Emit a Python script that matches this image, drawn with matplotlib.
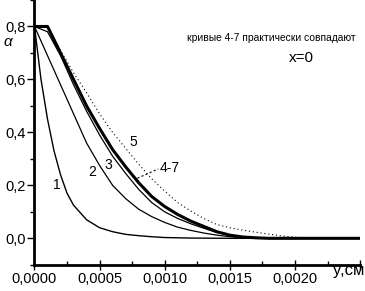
import matplotlib
matplotlib.use("Agg")
import matplotlib.pyplot as plt
from matplotlib.ticker import MultipleLocator, FuncFormatter

plt.rcParams["font.family"] = ["Liberation Sans", "DejaVu Sans"]

# y, cm  (common grid for curves 2-5)
y_cm = [0, 0.0001, 0.0002, 0.0003, 0.0004, 0.0005, 0.0006, 0.0007, 0.0008,
        0.0009, 0.0010, 0.0011, 0.0012, 0.0013, 0.0014, 0.0015, 0.0016,
        0.0017, 0.0018, 0.0019, 0.0020, 0.0021, 0.0022, 0.0025]

# curve 1 has its own finer grid near the wall
y1_cm = [0, 0.00005, 0.0001, 0.00015, 0.0002, 0.00025, 0.0003, 0.0004,
         0.0005, 0.0006, 0.0007, 0.0008, 0.0009, 0.0010, 0.0012, 0.0015, 0.0025]
a1 = [0.8, 0.60, 0.45, 0.33, 0.24, 0.17, 0.125, 0.07,
      0.04, 0.025, 0.015, 0.01, 0.006, 0.003, 0.001, 0.0, 0.0]

a2 = [0.8, 0.69, 0.58, 0.47, 0.36, 0.275, 0.2, 0.15, 0.11,
      0.082, 0.06, 0.042, 0.03, 0.02, 0.012, 0.006, 0.003,
      0.001, 0, 0, 0, 0, 0, 0]
a3 = [0.8, 0.78, 0.69, 0.58, 0.48, 0.39, 0.31, 0.245, 0.185,
      0.135, 0.10, 0.075, 0.055, 0.038, 0.022, 0.012, 0.005,
      0.001, 0, 0, 0, 0, 0, 0]
a47 = [0.8, 0.8, 0.70, 0.60, 0.50, 0.415, 0.335, 0.27, 0.21,
       0.158, 0.12, 0.09, 0.065, 0.045, 0.025, 0.012, 0.005,
       0.002, 0, 0, 0, 0, 0, 0]
a5 = [0.8, 0.8, 0.71, 0.625, 0.55, 0.47, 0.40, 0.34, 0.28,
      0.225, 0.178, 0.135, 0.103, 0.075, 0.052, 0.04, 0.031,
      0.023, 0.016, 0.009, 0.004, 0.001, 0, 0]

fig = plt.figure(figsize=(3.65, 2.91), dpi=100)
ax = fig.add_axes([0.0945, 0.09, 0.892, 0.91])

ax.plot(y1_cm, a1, color="k", lw=1.0)
ax.plot(y_cm, a2, color="k", lw=0.9)
ax.plot(y_cm, a3, color="k", lw=0.9)
ax.plot(y_cm, a47, color="k", lw=2.2)
ax.plot(y_cm, a5, color="k", lw=0.8, ls=(0, (1, 2.5)))

ax.set_xlim(0, 0.0025)
ax.set_ylim(-0.1, 0.9)

for s in ["top", "right"]:
    ax.spines[s].set_visible(False)
ax.spines["left"].set_linewidth(2)
ax.spines["bottom"].set_linewidth(2)

ax.xaxis.set_major_locator(MultipleLocator(0.0005))
ax.xaxis.set_minor_locator(MultipleLocator(0.00025))
ax.yaxis.set_major_locator(MultipleLocator(0.2))
ax.yaxis.set_minor_locator(MultipleLocator(0.1))
ax.xaxis.set_major_formatter(FuncFormatter(lambda v, p: f"{v:.4f}".replace(".", ",") if v < 0.00245 else ""))
ax.yaxis.set_major_formatter(FuncFormatter(lambda v, p: f"{v:.1f}".replace(".", ",") if v > -0.05 else ""))
ax.tick_params(axis="x", which="major", direction="inout", length=7, width=1, labelsize=10.5, pad=2)
ax.tick_params(axis="x", which="minor", direction="in", length=3, width=1)
ax.tick_params(axis="y", which="major", direction="out", length=5, width=1, labelsize=10.5, pad=1)
ax.tick_params(axis="y", which="minor", direction="out", length=3, width=1)

# curve labels
lab = dict(fontsize=10, ha="center", va="center")
ax.text(0.00017, 0.20, "1", **lab)
ax.text(0.00044, 0.25, "2", **lab)
ax.text(0.000565, 0.277, "3", **lab)
ax.text(0.00076, 0.364, "5", **lab)
ax.text(0.00104, 0.265, "4-7", **lab)
ax.plot([0.00079, 0.00095], [0.227, 0.262], color="k", lw=0.8, ls=(0, (2, 2)))

ax.text(0.00117, 0.745, "кривые 4-7 практически совпадают", fontsize=7.4)
ax.text(0.00195, 0.665, "x=0", fontsize=11)
fig.text(0.998, 0.07, "y,см", fontsize=12, ha="right", va="center")
fig.text(0.022, 0.855, "α", fontsize=11, ha="center", va="center", style="italic")

fig.savefig("out.png", dpi=100)
